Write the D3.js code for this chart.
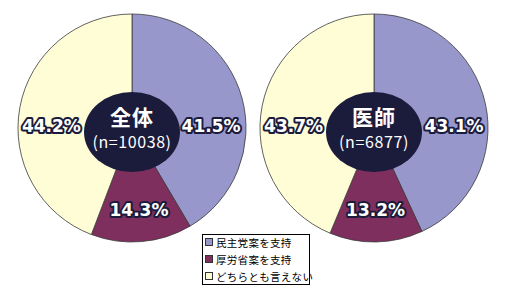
<!DOCTYPE html>
<html>
<head>
<meta charset="utf-8">
<script src="https://cdn.jsdelivr.net/npm/d3@7"></script>
<style>
  body { margin: 0; background: #fff; }
  svg { display: block; }
</style>
</head>
<body>
<svg id="graphique" width="507" height="299"></svg>
<script>
// categories and values (percent), clockwise from 12 o'clock
var categories = ["民主党案を支持", "厚労省案を支持", "どちらとも言えない"];
var groupNames = ["全体", "医師"];
var groupN = ["(n=10038)", "(n=6877)"];
var valuesAll = [41.5, 14.3, 44.2];
var valuesDoctors = [43.1, 13.2, 43.7];
var colors = ["#9897CB", "#7E2F5E", "#FFFDD5"];

var svg = d3.select("#graphique");
var R = 114;
var centers = d3.scalePoint().domain(groupNames).range([132, 374]);
var cy = 128;

var pie = d3.pie().sort(null).value(function(d){ return d; });
var arc = d3.arc().innerRadius(0).outerRadius(R);
var labelArc = d3.arc().innerRadius(82).outerRadius(82);

function drawPie(name, n, values){
	var g = svg.append("g").attr("transform", "translate(" + centers(name) + "," + cy + ")");
	var arcs = pie(values);

	g.selectAll("path.slice").data(arcs).enter().append("path")
		.attr("class", "slice")
		.attr("d", arc)
		.attr("fill", function(d, i){ return colors[i]; })
		.attr("stroke", "#3a3a3a")
		.attr("stroke-width", 0.8);

	// dark label in the middle
	g.append("ellipse")
		.attr("cx", 0).attr("cy", 4)
		.attr("rx", 48).attr("ry", 40)
		.attr("fill", "#1B1B3B");
	g.append("text")
		.attr("x", 0).attr("y", -3)
		.attr("text-anchor", "middle")
		.attr("font-family", "'Noto Sans CJK JP', sans-serif")
		.attr("font-weight", "bold")
		.attr("font-size", 21)
		.attr("letter-spacing", 1)
		.attr("fill", "#fff")
		.text(name);
	g.append("text")
		.attr("x", 0).attr("y", 20)
		.attr("text-anchor", "middle")
		.attr("font-family", "'Noto Sans CJK JP', sans-serif")
		.attr("font-size", 16)
		.attr("letter-spacing", 0.6)
		.attr("fill", "#fff")
		.text(n);

	// percentage labels: side labels kept on the centre line
	g.selectAll("text.pct").data(arcs).enter().append("text")
		.attr("class", "pct")
		.attr("x", function(d){ return labelArc.centroid(d)[0]; })
		.attr("y", function(d){
			var c = labelArc.centroid(d);
			return Math.abs(c[0]) > Math.abs(c[1]) ? -2 : c[1];
		})
		.attr("text-anchor", "middle")
		.attr("dominant-baseline", "central")
		.attr("font-family", "'DejaVu Sans', sans-serif")
		.attr("font-weight", "bold")
		.attr("font-size", 17)
		.attr("fill", "#fff")
		.attr("stroke", "#1B1B3B")
		.attr("stroke-width", 4)
		.attr("stroke-linejoin", "round")
		.attr("paint-order", "stroke")
		.text(function(d){ return d.data.toFixed(1) + "%"; });
}

drawPie(groupNames[0], groupN[0], valuesAll);
drawPie(groupNames[1], groupN[1], valuesDoctors);

//////// legende
var rowY = d3.scalePoint().domain(categories).range([242, 276]);
var legende = svg.append("g");
legende.append("rect")
	.attr("x", 202.5).attr("y", 234.5)
	.attr("width", 107).attr("height", 50)
	.attr("fill", "#fff")
	.attr("stroke", "#000")
	.attr("stroke-width", 1);

var items = legende.selectAll("g.item").data(categories).enter().append("g")
	.attr("class", "item")
	.attr("transform", function(d){ return "translate(205," + rowY(d) + ")"; });
items.append("rect")
	.attr("x", 0.5).attr("y", -3.5)
	.attr("width", 7).attr("height", 7)
	.attr("fill", function(d, i){ return colors[i]; })
	.attr("stroke", "#333")
	.attr("stroke-width", 1);
items.append("text")
	.attr("x", 11).attr("y", 0)
	.attr("dominant-baseline", "central")
	.attr("font-family", "'Noto Sans CJK JP', sans-serif")
	.attr("font-size", 10.5)
	.attr("letter-spacing", 0.3)
	.attr("fill", "#000")
	.text(function(d){ return d; });
</script>
</body>
</html>
